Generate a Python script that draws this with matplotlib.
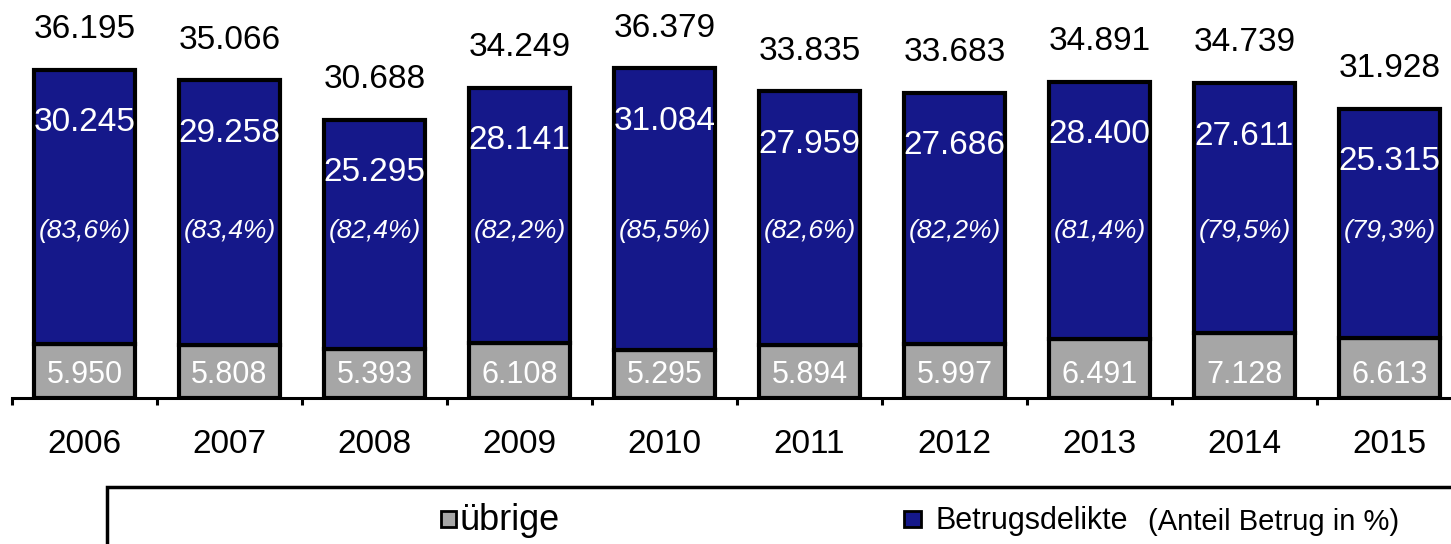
import matplotlib.pyplot as plt
from matplotlib.patches import Rectangle
import numpy as np

plt.rcParams['font.family'] = ['Liberation Sans', 'DejaVu Sans']

# Data
years = ['2006', '2007', '2008', '2009', '2010', '2011', '2012', '2013', '2014', '2015']
uebrige = [5950, 5808, 5393, 6108, 5295, 5894, 5997, 6491, 7128, 6613]
betrug = [30245, 29258, 25295, 28141, 31084, 27959, 27686, 28400, 27611, 25315]
totals = [36195, 35066, 30688, 34249, 36379, 33835, 33683, 34891, 34739, 31928]
anteil = ['83,6', '83,4', '82,4', '82,2', '85,5', '82,6', '82,2', '81,4', '79,5', '79,3']

grey = '#A6A6A6'
blue = '#15188A'

fig = plt.figure(figsize=(14.51, 5.44), dpi=100)
ax = fig.add_axes([12 / 1451, 146 / 544, 1450 / 1451, 398 / 544])

x = np.arange(len(years))
ax.bar(x, uebrige, width=0.69, color=grey, edgecolor='black', linewidth=3)
ax.bar(x, betrug, width=0.69, bottom=uebrige, color=blue, edgecolor='black', linewidth=3)

ax.set_xlim(-0.5, len(years) - 0.5)
ax.set_ylim(0, 43930)

for i in range(len(years)):
    top = uebrige[i] + betrug[i]
    ax.annotate(f'{totals[i] / 1000:.3f}', xy=(i, top), xytext=(0, 29), textcoords='offset points',
                ha='center', va='center', fontsize=24, color='black')
    ax.annotate(f'{betrug[i] / 1000:.3f}', xy=(i, top), xytext=(0, -38), textcoords='offset points',
                ha='center', va='center', fontsize=24, color='white')
    ax.annotate(f'{uebrige[i] / 1000:.3f}', xy=(i, 0), xytext=(0, 16.5), textcoords='offset points',
                ha='center', va='center', fontsize=22, color='white')
    ax.text(i, 0.42, f'({anteil[i]}%)', transform=ax.get_xaxis_transform(),
            ha='center', va='center', fontsize=19, style='italic', color='white')

# Axis formatting
for side in ['top', 'right', 'left']:
    ax.spines[side].set_visible(False)
ax.spines['bottom'].set_linewidth(2.2)
ax.set_yticks([])
ax.set_xticks(x)
ax.set_xticklabels(years, fontsize=24)
ax.tick_params(axis='x', which='major', length=0, pad=22)
ax.set_xticks(np.arange(-0.5, len(years), 1), minor=True)
ax.tick_params(axis='x', which='minor', length=5, width=2.2, direction='out')

# Legend box
fig.patches.append(Rectangle((107 / 1451, -0.05), 1.0, (544 - 487) / 544 + 0.05,
                             transform=fig.transFigure, facecolor='white',
                             edgecolor='black', linewidth=2.5))
fig.patches.append(Rectangle((441 / 1451, (544 - 527) / 544), 15 / 1451, 16 / 544,
                             transform=fig.transFigure, facecolor=grey,
                             edgecolor='black', linewidth=2))
fig.text(460 / 1451, (544 - 521) / 544, 'übrige', fontsize=26, ha='left', va='center')
fig.patches.append(Rectangle((904 / 1451, (544 - 527) / 544), 17 / 1451, 16 / 544,
                             transform=fig.transFigure, facecolor=blue,
                             edgecolor='black', linewidth=2))
fig.text(935 / 1451, (544 - 521) / 544, 'Betrugsdelikte', fontsize=22, ha='left', va='center')
fig.text(1148 / 1451, (544 - 522) / 544, '(Anteil Betrug in %)', fontsize=21, ha='left', va='center')

plt.savefig('out.png', dpi=100)
